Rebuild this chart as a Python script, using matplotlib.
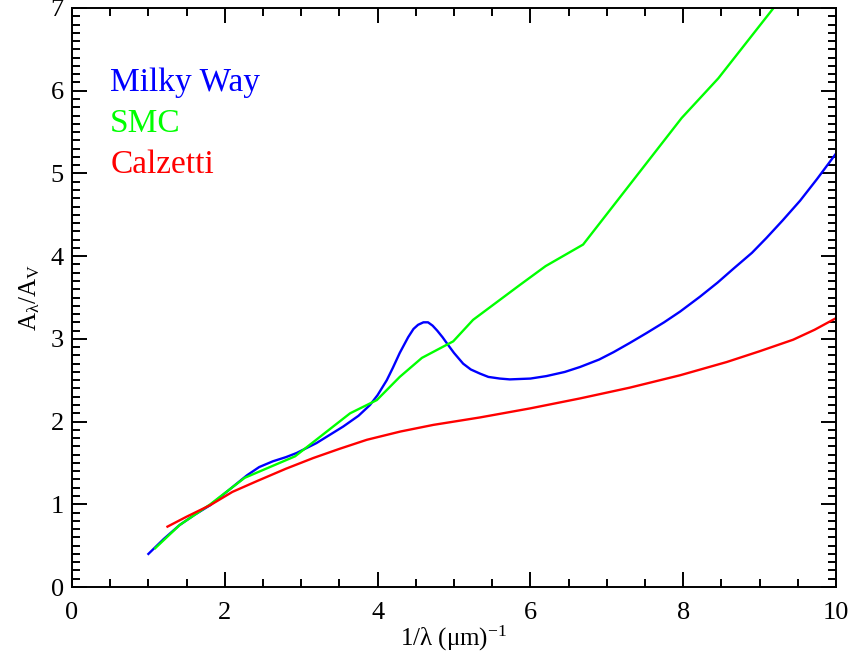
import matplotlib
matplotlib.use("Agg")
import matplotlib.pyplot as plt
from matplotlib.ticker import MultipleLocator

plt.rcParams['font.family'] = ['Liberation Serif', 'DejaVu Serif']
plt.rcParams['mathtext.fontset'] = 'custom'
plt.rcParams['mathtext.rm'] = 'Liberation Serif'
plt.rcParams['mathtext.it'] = 'Liberation Serif'

# Milky Way extinction curve
mw_x = [1.0, 1.2, 1.41, 1.6, 1.81, 2.05, 2.29, 2.45, 2.63, 2.8, 2.94, 3.2, 3.55,
        3.75, 3.9, 4.0, 4.12, 4.2, 4.29, 4.4, 4.47, 4.53, 4.6, 4.66, 4.72,
        4.78, 4.85, 4.92, 5.0, 5.12, 5.22, 5.34, 5.45, 5.6, 5.73, 6.0, 6.21,
        6.45, 6.65, 6.9, 7.09, 7.3, 7.52, 7.75, 7.96, 8.22, 8.45, 8.66, 8.9,
        9.09, 9.3, 9.53, 9.75, 10.0]
mw_y = [0.40, 0.58, 0.75, 0.87, 0.99, 1.17, 1.35, 1.45, 1.52, 1.57, 1.62, 1.74, 1.94,
        2.07, 2.20, 2.32, 2.50, 2.65, 2.83, 3.02, 3.12, 3.17, 3.20, 3.20, 3.16,
        3.10, 3.02, 2.93, 2.83, 2.70, 2.63, 2.58, 2.54, 2.52, 2.51, 2.52, 2.55,
        2.60, 2.66, 2.75, 2.84, 2.95, 3.07, 3.20, 3.33, 3.51, 3.68, 3.85, 4.04,
        4.22, 4.43, 4.67, 4.93, 5.24]

# SMC bar extinction curve
smc_x = [1.09, 1.41, 1.81, 2.26, 2.92, 3.64, 3.99, 4.29, 4.58, 4.99, 5.25,
         5.86, 6.2, 6.69, 7.98, 8.46, 9.2]
smc_y = [0.47, 0.75, 1.00, 1.32, 1.58, 2.10, 2.26, 2.54, 2.77, 2.97, 3.23,
         3.65, 3.88, 4.14, 5.67, 6.15, 7.02]

# Calzetti attenuation curve
calz_x = [1.25, 1.5, 1.81, 2.1, 2.42, 2.8, 3.16, 3.5, 3.86, 4.3, 4.73, 5.34,
          6.0, 6.65, 7.3, 7.96, 8.57, 9.0, 9.44, 9.72, 10.0]
calz_y = [0.73, 0.85, 0.99, 1.15, 1.28, 1.43, 1.56, 1.67, 1.78, 1.88, 1.96, 2.05,
          2.16, 2.28, 2.41, 2.56, 2.72, 2.85, 2.99, 3.11, 3.25]

fig = plt.figure(figsize=(8.54, 6.55), dpi=100)
ax = fig.add_axes([0.0843, 0.1038, 0.8946, 0.884])

ax.plot(mw_x, mw_y, color=(0, 0, 1), lw=1.7)
ax.plot(smc_x, smc_y, color=(0, 1, 0), lw=1.7)
ax.plot(calz_x, calz_y, color=(1, 0, 0), lw=1.7)

ax.set_xlim(0, 10)
ax.set_ylim(0, 7)

ax.xaxis.set_major_locator(MultipleLocator(2))
ax.xaxis.set_minor_locator(MultipleLocator(0.5))
ax.yaxis.set_major_locator(MultipleLocator(1))
ax.yaxis.set_minor_locator(MultipleLocator(0.1))

for s in ax.spines.values():
    s.set_linewidth(1.4)
ax.tick_params(which='both', direction='in', top=True, right=True, width=1.4,
               labelsize=19)
ax.tick_params(which='major', length=10.8)
ax.tick_params(which='minor', length=5.8)
ax.tick_params(axis='x', pad=11)
ax.tick_params(axis='y', pad=6)

ax.set_xlabel(r'1/$\lambda$ ($\mu$m)$^{-1}$', fontsize=18, labelpad=0)
ax.set_ylabel(r'$\mathrm{A_\lambda/A_V}$', fontsize=18, labelpad=6)

ax.text(0.5, 6.0, 'Milky Way', color=(0, 0, 1), fontsize=24)
ax.text(0.5, 5.5, 'SMC', color=(0, 1, 0), fontsize=24)
ax.text(0.5, 5.0, 'Calzetti', color=(1, 0, 0), fontsize=24)

fig.savefig('out.png', dpi=100)
